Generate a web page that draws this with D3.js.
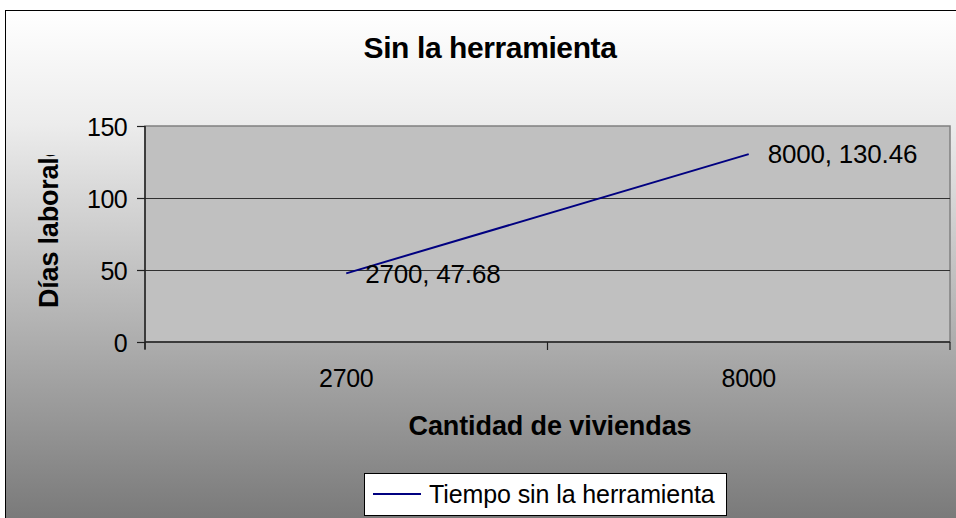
<!DOCTYPE html>
<html>
<head>
<meta charset="utf-8">
<script src="https://cdn.jsdelivr.net/npm/d3@7"></script>
<style>
  html, body { margin: 0; padding: 0; background: #ffffff; }
  svg { display: block; }
  text { font-family: "Liberation Sans", Arial, sans-serif; fill: #000; }
</style>
</head>
<body>
<svg id="chart" width="956" height="518"></svg>
<script>
// Chart data
const categories = ["2700", "8000"];
const seriesName = "Tiempo sin la herramienta";
const seriesValues = [47.68, 130.46];
const yTicks = [0, 50, 100, 150];
const titleText = "Sin la herramienta";
const xTitle = "Cantidad de viviendas";
const yTitle = "Días laborales";

const svg = d3.select("#chart");
const W = 956, H = 518;
const plot = { left: 145, top: 126, right: 950, bottom: 342 };

// Chart-area gradient background
const defs = svg.append("defs");
const grad = defs.append("linearGradient")
  .attr("id", "bg").attr("x1", 0).attr("y1", 0).attr("x2", 0).attr("y2", 1);
grad.append("stop").attr("offset", "0").attr("stop-color", "#ffffff");
grad.append("stop").attr("offset", "0.22").attr("stop-color", "#ececec");
grad.append("stop").attr("offset", "1").attr("stop-color", "#777777");

svg.append("rect").attr("x", 5.5).attr("y", 10.5).attr("width", W).attr("height", H)
  .attr("fill", "url(#bg)").attr("stroke", "#000").attr("stroke-width", 1);

// Scales
const x = d3.scaleBand().domain(categories).range([plot.left, plot.right]).padding(0);
const y = d3.scaleLinear().domain([0, 150]).range([plot.bottom, plot.top]);

// Plot area
svg.append("rect")
  .attr("x", plot.left).attr("y", plot.top)
  .attr("width", plot.right - plot.left).attr("height", plot.bottom - plot.top)
  .attr("fill", "#c0c0c0").attr("stroke", "#808080").attr("stroke-width", 1.5);

// Gridlines
const grid = svg.append("g").attr("transform", `translate(${plot.left},0)`)
  .call(d3.axisLeft(y).tickValues(yTicks.filter(v => v > 0 && v < 150))
    .tickSize(-(plot.right - plot.left)).tickFormat(""));
grid.select(".domain").remove();
grid.selectAll("line").attr("stroke", "#303030").attr("stroke-width", 1.2);

// Y axis
const yAxis = svg.append("g").attr("transform", `translate(${plot.left},0)`)
  .call(d3.axisLeft(y).tickValues(yTicks).tickSize(8).tickPadding(10).tickSizeOuter(0));
yAxis.select(".domain").attr("stroke", "#202020").attr("stroke-width", 1.5)
  .attr("d", `M0,${plot.top}V${plot.bottom + 7}`);
yAxis.selectAll(".tick line").attr("stroke", "#202020").attr("stroke-width", 1.2);
yAxis.selectAll(".tick text").attr("font-size", 25).attr("dy", "0.36em")
  .attr("font-family", "Liberation Sans, Arial, sans-serif").attr("letter-spacing", -0.6);

// X axis: line, tick marks at category boundaries, labels at centers
const xAxis = svg.append("g");
xAxis.append("line")
  .attr("x1", plot.left).attr("x2", plot.right)
  .attr("y1", plot.bottom).attr("y2", plot.bottom)
  .attr("stroke", "#202020").attr("stroke-width", 1.5);
const boundaries = categories.map(c => x(c)).concat([x(categories[categories.length - 1]) + x.bandwidth()]);
xAxis.selectAll("line.tk").data(boundaries).join("line").attr("class", "tk")
  .attr("x1", d => d).attr("x2", d => d)
  .attr("y1", plot.bottom).attr("y2", plot.bottom + 8)
  .attr("stroke", "#202020").attr("stroke-width", 1.2);
xAxis.selectAll("text").data(categories).join("text")
  .attr("x", d => x(d) + x.bandwidth() / 2).attr("y", 387)
  .attr("text-anchor", "middle").attr("font-size", 25).attr("letter-spacing", -0.3)
  .text(d => d);

// Series line
const pts = categories.map((c, i) => ({ c, v: seriesValues[i] }));
const line = d3.line().x(d => x(d.c) + x.bandwidth() / 2).y(d => y(d.v));
svg.append("path").datum(pts).attr("d", line)
  .attr("fill", "none").attr("stroke", "#000080").attr("stroke-width", 2);

// Data labels
svg.selectAll("text.dl").data(pts).join("text").attr("class", "dl")
  .attr("x", d => x(d.c) + x.bandwidth() / 2 + 19)
  .attr("y", d => y(d.v)).attr("dy", "0.36em")
  .attr("font-size", 26).attr("letter-spacing", -0.2)
  .text(d => `${d.c}, ${d.v}`);

// Title
svg.append("text").attr("x", 490).attr("y", 58).attr("text-anchor", "middle")
  .attr("font-size", 30).attr("font-weight", "bold").attr("letter-spacing", -0.4)
  .text(titleText);

// Axis titles
svg.append("text").attr("x", 550).attr("y", 435).attr("text-anchor", "middle")
  .attr("font-size", 27).attr("font-weight", "bold").attr("letter-spacing", -0.1)
  .text(xTitle);

defs.append("clipPath").attr("id", "yclip")
  .append("rect").attr("x", 0).attr("y", 155).attr("width", 100).attr("height", 300);
svg.append("g").attr("clip-path", "url(#yclip)")
  .append("text").attr("transform", "translate(58,308) rotate(-90)")
  .attr("font-size", 27).attr("font-weight", "bold").attr("letter-spacing", -0.2)
  .text(yTitle);

// Legend
const lg = svg.append("g");
lg.append("rect").attr("x", 364.5).attr("y", 473.5).attr("width", 362).attr("height", 42)
  .attr("fill", "#ffffff").attr("stroke", "#000").attr("stroke-width", 1);
lg.append("line").attr("x1", 373).attr("x2", 421).attr("y1", 494).attr("y2", 494)
  .attr("stroke", "#000080").attr("stroke-width", 2);
lg.append("text").attr("x", 429).attr("y", 503).attr("font-size", 25).attr("letter-spacing", -0.1)
  .text(seriesName);
</script>
</body>
</html>
